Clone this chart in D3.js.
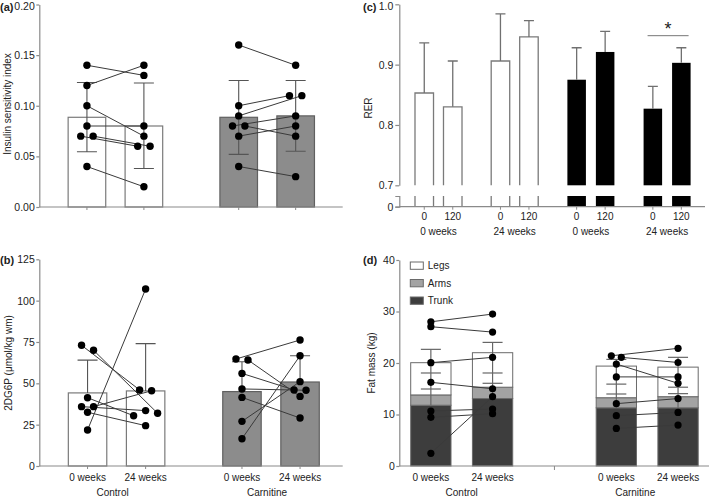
<!DOCTYPE html>
<html><head><meta charset="utf-8">
<script src="https://cdn.jsdelivr.net/npm/d3@7"></script>
<style>
body{margin:0;background:#fff}
svg{font-family:"Liberation Sans",Arial,Helvetica,sans-serif;}
</style>
</head><body>
<svg id="chart" width="709" height="496"></svg>
<script>
// ---------------- DATA ----------------
const groups = ["Control", "Carnitine"];
const times = ["0 weeks", "24 weeks"];

// Panel (a) Insulin sensitivity index
const aTicks = [0, 0.05, 0.10, 0.15, 0.20];
const aCtrl0 = [0.14, 0.12, 0.10, 0.08, 0.07, 0.07, 0.04];
const aCtrl24 = [0.13, 0.14, 0.07, 0.08, 0.06, 0.06, 0.02];
const aCarn0 = [0.16, 0.10, 0.09, 0.08, 0.08, 0.07, 0.04];
const aCarn24 = [0.14, 0.11, 0.11, 0.09, 0.07, 0.08, 0.03];
const aMean = [0.0886, 0.080, 0.0886, 0.090];
const aErrLow = [0.0546, 0.038, 0.052, 0.055];
const aErrHigh = [0.123, 0.1225, 0.125, 0.125];

// Panel (b) 2DG6P
const bTicks = [0, 25, 50, 75, 100, 125];
const bCtrl0 = [73, 70, 21.8, 41.3, 35.9, 35.9, 32.5];
const bCtrl24 = [46, 31.9, 107, 30.4, 33.5, 45.5, 24.4];
const bCarn0 = [64.7, 64.1, 56, 46.6, 41.5, 27, 16.5];
const bCarn24 = [76.2, 42.1, 46, 45.8, 29, 51, 66.7];
const bMean = [44.2, 45.4, 45.0, 50.8];
const bErrHigh = [64, 74, 63, 66.7];

// Panel (c) RER
const cGroups = ["Control 0 weeks", "Control 24 weeks", "Carnitine 0 weeks", "Carnitine 24 weeks"];
const cGroupLabels = ["0 weeks", "24 weeks", "0 weeks", "24 weeks"];
const cTimes = ["0", "120"];
const cTicks = [0.7, 0.8, 0.9, 1.0];
const cMean = [[0.853, 0.830], [0.906, 0.946], [0.875, 0.921], [0.827, 0.903]];
const cErrHigh = [[0.936, 0.906], [0.984, 0.973], [0.928, 0.955], [0.864, 0.928]];
const cSigValue = 0.948;

// Panel (d) Fat mass
const dTicks = [0, 10, 20, 30, 40];
const dKeys = ["Trunk", "Arms", "Legs"];
const dTrunk = [11.8, 13.1, 11.3, 11.3];
const dArms = [2.0, 2.2, 1.96, 2.16];
const dLegs = [6.26, 6.7, 6.14, 5.74];
const dLegsErr = [22.65, 24.0, 20.7, 21.1];
const dTrunkErr = [18.06, 18.06, 15.9, 15.3];
const dArmsErr = [14.95, 16.06, 13.98, 14.05];
const dCtrl0 = [28.0, 27.05, 20.06, 16.25, 10.68, 9.45, 2.46];
const dCtrl24 = [29.5, 26.0, 21.1, 15.0, 11.07, 10.16, 13.46];
const dCarn0 = [21.4, 21.1, 19.8, 17.3, 12.1, 9.77, 7.3];
const dCarn24 = [22.85, 20.1, 16.05, 17.3, 13.1, 10.4, 7.95];

// ---------------- STYLE ----------------
const AX = "#8a8a8a", TXT = "#222", BAR_EDGE = "#7a7a7a", LINE = "#3a3a3a";
const TICKFS = "10.5px", LABFS = "10px";

const svg = d3.select("#chart");

function styleAxis(g) {
  g.selectAll(".domain").attr("stroke", AX).attr("stroke-width", 1.2);
  g.selectAll(".tick line").attr("stroke", AX).attr("stroke-width", 1.2);
  g.selectAll(".tick text").attr("fill", TXT).style("font-size", TICKFS);
}

function swarm(vals, y, s, th) {
  const n = vals.length, off = new Array(n).fill(0);
  const order = d3.range(n).sort((a, b) => d3.descending(vals[a], vals[b]) || a - b);
  const cands = [0];
  for (let k = 1; k < 6; k++) cands.push(k * s, -k * s);
  const placed = [];
  for (const i of order) {
    const yi = y(vals[i]);
    for (const c of cands) {
      if (placed.every(j => Math.abs(y(vals[j]) - yi) >= th || Math.abs(off[j] - c) >= s - 1e-6)) { off[i] = c; break; }
    }
    placed.push(i);
  }
  const parent = d3.range(n);
  const find = i => parent[i] === i ? i : (parent[i] = find(parent[i]));
  for (let i = 0; i < n; i++) for (let j = i + 1; j < n; j++)
    if (Math.abs(y(vals[i]) - y(vals[j])) < th) parent[find(i)] = find(j);
  const comps = d3.group(d3.range(n), i => find(i));
  for (const [, m] of comps) {
    if (m.length === 2) { const sh = (off[m[0]] + off[m[1]]) / 2; m.forEach(i => off[i] -= sh); }
  }
  return off;
}

function drawPairs(g, x0, x1, y, subj, s, th, r) {
  groups.forEach((gr, gi) => {
    const [v0, v1] = subj[gi];
    const cx0 = x0(gr) + x1(times[0]) + x1.bandwidth() / 2;
    const cx1 = x0(gr) + x1(times[1]) + x1.bandwidth() / 2;
    const o0 = swarm(v0, y, s, th), o1 = swarm(v1, y, s, th);
    g.selectAll(null).data(v0).enter().append("line")
      .attr("x1", (d, i) => cx0 + o0[i]).attr("y1", d => y(d))
      .attr("x2", (d, i) => cx1 + o1[i]).attr("y2", (d, i) => y(v1[i]))
      .attr("stroke", LINE).attr("stroke-width", 1);
    [[v0, o0, cx0], [v1, o1, cx1]].forEach(([v, o, cx]) => {
      g.selectAll(null).data(v).enter().append("circle")
        .attr("cx", (d, i) => cx + o[i]).attr("cy", d => y(d)).attr("r", r).attr("fill", "#000");
    });
  });
}

function barList() {
  const out = [];
  groups.forEach((gr, gi) => times.forEach((t, ti) => out.push({ g: gr, t, k: gi * 2 + ti })));
  return out;
}

function nudgeTop(ax, top) {
  ax.selectAll(".tick").filter(d => Math.abs(d - top) < 1e-9).select("text").attr("dy", "0.5em");
}

// ---------------- PANEL A ----------------
(function () {
  const g = svg.append("g");
  const y = d3.scaleLinear().domain([0, 0.2]).range([207, 4.5]);
  const x0 = d3.scaleBand().domain(groups).range([39.3, 343.3]).paddingInner(0.377).paddingOuter(0.19);
  const x1 = d3.scaleBand().domain(times).range([0, x0.bandwidth()]).paddingInner(0.34).paddingOuter(0);
  const bars = barList();
  g.selectAll(null).data(bars).enter().append("rect")
    .attr("x", d => x0(d.g) + x1(d.t)).attr("width", x1.bandwidth())
    .attr("y", d => y(aMean[d.k])).attr("height", d => y(0) - y(aMean[d.k]))
    .attr("fill", d => d.g === "Control" ? "#fff" : "#8c8c8c")
    .attr("stroke", d => d.g === "Control" ? BAR_EDGE : "#606060").attr("stroke-width", 1.2);
  const cx = d => x0(d.g) + x1(d.t) + x1.bandwidth() / 2;
  g.selectAll(null).data(bars).enter().append("path")
    .attr("d", d => `M${cx(d)},${y(aErrLow[d.k])}V${y(aErrHigh[d.k])}M${cx(d) - 10},${y(aErrHigh[d.k])}h20M${cx(d) - 10},${y(aErrLow[d.k])}h20`)
    .attr("stroke", "#555").attr("stroke-width", 1.1).attr("fill", "none");
  drawPairs(g, x0, x1, y, [[aCtrl0, aCtrl24], [aCarn0, aCarn24]], 12.4, 5.2, 3.7);
  const ya = g.append("g").attr("transform", "translate(39.3,0)")
    .call(d3.axisLeft(y).tickValues(aTicks).tickFormat(d3.format(".2f")).tickSize(3).tickPadding(1.5).tickSizeOuter(0));
  styleAxis(ya); nudgeTop(ya, 0.2);
  g.append("line").attr("x1", 39.3).attr("x2", 342.7).attr("y1", y(0)).attr("y2", y(0)).attr("stroke", AX).attr("stroke-width", 1.2);
  g.selectAll(null).data(bars).enter().append("line")
    .attr("x1", cx).attr("x2", cx).attr("y1", y(0)).attr("y2", y(0) + 3).attr("stroke", AX);
  g.append("text").attr("x", 0).attr("y", 11).attr("font-weight", "bold").style("font-size", "11px").attr("fill", TXT).text("(a)");
  g.append("text").attr("transform", "translate(7.5,104) rotate(-90)").attr("text-anchor", "middle")
    .attr("dy", "0.35em").style("font-size", LABFS).attr("fill", TXT).text("Insulin sensitivity index");
})();

// ---------------- PANEL B ----------------
(function () {
  const g = svg.append("g");
  const y = d3.scaleLinear().domain([0, 125]).range([466, 259.3]);
  const x0 = d3.scaleBand().domain(groups).range([39.3, 348.3]).paddingInner(0.375).paddingOuter(0.188);
  const x1 = d3.scaleBand().domain(times).range([0, x0.bandwidth()]).paddingInner(0.338).paddingOuter(0);
  const bars = barList();
  const cx = d => x0(d.g) + x1(d.t) + x1.bandwidth() / 2;
  g.selectAll(null).data(bars).enter().append("rect")
    .attr("x", d => x0(d.g) + x1(d.t)).attr("width", x1.bandwidth())
    .attr("y", d => y(bMean[d.k])).attr("height", d => y(0) - y(bMean[d.k]))
    .attr("fill", d => d.g === "Control" ? "#fff" : "#8c8c8c")
    .attr("stroke", d => d.g === "Control" ? BAR_EDGE : "#606060").attr("stroke-width", 1.2);
  g.selectAll(null).data(bars).enter().append("path")
    .attr("d", d => `M${cx(d)},${y(bMean[d.k])}V${y(bErrHigh[d.k])}M${cx(d) - 10},${y(bErrHigh[d.k])}h20`)
    .attr("stroke", "#555").attr("stroke-width", 1.1).attr("fill", "none");
  drawPairs(g, x0, x1, y, [[bCtrl0, bCtrl24], [bCarn0, bCarn24]], 12, 5.2, 3.7);
  const ya = g.append("g").attr("transform", "translate(39.3,0)")
    .call(d3.axisLeft(y).tickValues(bTicks).tickSize(3).tickPadding(1.5).tickSizeOuter(0));
  styleAxis(ya);
  g.append("line").attr("x1", 39.3).attr("x2", 342.7).attr("y1", y(0)).attr("y2", y(0)).attr("stroke", AX).attr("stroke-width", 1.2);
  g.selectAll(null).data(bars).enter().append("line")
    .attr("x1", cx).attr("x2", cx).attr("y1", y(0)).attr("y2", y(0) + 3).attr("stroke", AX);
  g.selectAll(null).data(bars).enter().append("text")
    .attr("x", cx).attr("y", 480.5).attr("text-anchor", "middle").style("font-size", LABFS).attr("fill", TXT).text(d => d.t);
  g.selectAll(null).data(groups).enter().append("text")
    .attr("x", d => x0(d) + x0.bandwidth() / 2 - 4).attr("y", 495.5).attr("text-anchor", "middle")
    .style("font-size", LABFS).attr("fill", TXT).text(d => d);
  g.append("text").attr("x", 0).attr("y", 263.5).attr("font-weight", "bold").style("font-size", "11px").attr("fill", TXT).text("(b)");
  g.append("text").attr("transform", "translate(8.5,363) rotate(-90)").attr("text-anchor", "middle")
    .attr("dy", "0.35em").style("font-size", LABFS).attr("fill", TXT).text("2DG6P (μmol/kg wm)");
})();

// ---------------- PANEL C ----------------
(function () {
  const g = svg.append("g");
  const y = d3.scaleLinear().domain([0.7, 1.0]).range([185.3, 4.3]);
  const yL = d3.scaleLinear().domain([0, 0.7]).range([206.7, 196]);
  const x0 = d3.scaleBand().domain(cGroups).range([399.3, 706.3]).paddingInner(0.383).paddingOuter(0.206);
  const x1 = d3.scaleBand().domain(cTimes).range([0, x0.bandwidth()]).paddingInner(0.35).paddingOuter(0);
  const bars = [];
  cGroups.forEach((gr, gi) => cTimes.forEach((t, ti) => bars.push({ g: gr, gi, t, ti, v: cMean[gi][ti], e: cErrHigh[gi][ti], dark: gr.startsWith("Carnitine") })));
  const bx = d => x0(d.g) + x1(d.t), bw = x1.bandwidth();
  const cx = d => bx(d) + bw / 2;
  g.selectAll(null).data(bars.filter(d => !d.dark)).enter().append("path")
    .attr("d", d => `M${bx(d)},${y(0.7)}V${y(d.v)}H${bx(d) + bw}V${y(0.7)}M${bx(d)},${yL(0)}V${yL(0.7)}M${bx(d) + bw},${yL(0)}V${yL(0.7)}`)
    .attr("fill", "#fff").attr("stroke", BAR_EDGE).attr("stroke-width", 1.3);
  g.selectAll(null).data(bars.filter(d => d.dark)).enter().append("rect")
    .attr("x", bx).attr("width", bw).attr("y", d => y(d.v)).attr("height", d => y(0.7) - y(d.v)).attr("fill", "#000");
  g.selectAll(null).data(bars.filter(d => d.dark)).enter().append("rect")
    .attr("x", bx).attr("width", bw).attr("y", yL(0.7)).attr("height", yL(0) - yL(0.7)).attr("fill", "#000");
  g.selectAll(null).data(bars).enter().append("path")
    .attr("d", d => `M${cx(d)},${y(d.v)}V${y(d.e)}M${cx(d) - 5},${y(d.e)}h10`)
    .attr("stroke", "#707070").attr("stroke-width", 1.3).attr("fill", "none");
  const ya = g.append("g").attr("transform", "translate(399.3,0)")
    .call(d3.axisLeft(y).tickValues(cTicks).tickFormat(d3.format(".1f")).tickSize(4).tickPadding(2).tickSizeOuter(0));
  styleAxis(ya); nudgeTop(ya, 1.0);
  const yb = g.append("g").attr("transform", "translate(399.3,0)")
    .call(d3.axisLeft(yL).tickValues([0]).tickFormat(d3.format("d")).tickSize(4).tickPadding(2).tickSizeOuter(4));
  styleAxis(yb);
  g.append("line").attr("x1", 399.3).attr("x2", 705).attr("y1", yL(0)).attr("y2", yL(0)).attr("stroke", AX).attr("stroke-width", 1.2);
  g.selectAll(null).data(bars).enter().append("line")
    .attr("x1", cx).attr("x2", cx).attr("y1", yL(0)).attr("y2", yL(0) + 3).attr("stroke", AX);
  g.selectAll(null).data(bars).enter().append("text")
    .attr("x", cx).attr("y", 220).attr("text-anchor", "middle").style("font-size", LABFS).attr("fill", TXT).text(d => d.t);
  g.selectAll(null).data(cGroups).enter().append("text")
    .attr("x", d => x0(d) + x0.bandwidth() / 2).attr("y", 235).attr("text-anchor", "middle")
    .style("font-size", LABFS).attr("fill", TXT).text((d, i) => cGroupLabels[i]);
  const last = bars.filter(d => d.gi === 3);
  g.append("line").attr("x1", bx(last[0]) + 4).attr("x2", bx(last[1]) + bw - 2)
    .attr("y1", y(cSigValue)).attr("y2", y(cSigValue)).attr("stroke", "#777").attr("stroke-width", 1);
  g.append("text").attr("x", (bx(last[0]) + bx(last[1]) + bw) / 2 + 1).attr("y", 35).attr("text-anchor", "middle")
    .style("font-size", "18px").attr("fill", TXT).text("*");
  g.append("text").attr("x", 363).attr("y", 11).attr("font-weight", "bold").style("font-size", "11px").attr("fill", TXT).text("(c)");
  g.append("text").attr("transform", "translate(368.5,108) rotate(-90)").attr("text-anchor", "middle")
    .attr("dy", "0.35em").style("font-size", LABFS).attr("fill", TXT).text("RER");
})();

// ---------------- PANEL D ----------------
(function () {
  const g = svg.append("g");
  const y = d3.scaleLinear().domain([0, 40]).range([466, 260]);
  const x0 = d3.scaleBand().domain(groups).range([399.3, 709.6]).paddingInner(0.45).paddingOuter(0.0615);
  const x1 = d3.scaleBand().domain(times).range([0, x0.bandwidth()]).paddingInner(0.347).paddingOuter(0);
  const bars = barList();
  const rows = bars.map(b => ({ ...b, Trunk: dTrunk[b.k], Arms: dArms[b.k], Legs: dLegs[b.k] }));
  const stack = d3.stack().keys(dKeys)(rows);
  const fills = { Trunk: "#3d3d3d", Arms: "#a3a3a3", Legs: "#ffffff" };
  const bx = d => x0(d.g) + x1(d.t), bw = x1.bandwidth();
  const cx = d => bx(d) + bw / 2;
  stack.forEach(layer => {
    g.selectAll(null).data(layer).enter().append("rect")
      .attr("x", d => bx(d.data)).attr("width", bw)
      .attr("y", d => y(d[1])).attr("height", d => y(d[0]) - y(d[1]))
      .attr("fill", fills[layer.key]).attr("stroke", "#6a6a6a").attr("stroke-width", 1);
  });
  const tops = stack.map(l => l.map(d => d[1]));
  const errs = [dTrunkErr, dArmsErr, dLegsErr];
  bars.forEach((b, i) => {
    const base = tops[0][i];
    const top = d3.max(errs, e => e[b.k]);
    g.append("line").attr("x1", cx(b)).attr("x2", cx(b)).attr("y1", y(base)).attr("y2", y(top)).attr("stroke", "#666").attr("stroke-width", 1.2);
    errs.forEach(e => g.append("line").attr("x1", cx(b) - 10).attr("x2", cx(b) + 10)
      .attr("y1", y(e[b.k])).attr("y2", y(e[b.k])).attr("stroke", "#666").attr("stroke-width", 1.2));
  });
  drawPairs(g, x0, x1, y, [[dCtrl0, dCtrl24], [dCarn0, dCarn24]], 10, 4.5, 3.6);
  const ya = g.append("g").attr("transform", "translate(399.3,0)")
    .call(d3.axisLeft(y).tickValues(dTicks).tickSize(3).tickPadding(1.5).tickSizeOuter(0));
  styleAxis(ya);
  g.append("line").attr("x1", 399.3).attr("x2", 709).attr("y1", y(0)).attr("y2", y(0)).attr("stroke", AX).attr("stroke-width", 1.2);
  const mid = (x0(groups[0]) + x0.bandwidth() + x0(groups[1])) / 2;
  g.append("line").attr("x1", mid).attr("x2", mid).attr("y1", y(0)).attr("y2", y(0) + 4).attr("stroke", AX);
  g.selectAll(null).data(bars).enter().append("text")
    .attr("x", cx).attr("y", 480.5).attr("text-anchor", "middle").style("font-size", LABFS).attr("fill", TXT).text(d => d.t);
  g.selectAll(null).data(groups).enter().append("text")
    .attr("x", (d, i) => x0(d) + x0.bandwidth() / 2 - (i ? 12 : 0)).attr("y", 495.5).attr("text-anchor", "middle")
    .style("font-size", LABFS).attr("fill", TXT).text(d => d);
  const leg = g.append("g").attr("transform", "translate(410.3,262)");
  dKeys.slice().reverse().forEach((k, i) => {
    leg.append("rect").attr("x", 0).attr("y", i * 17.5).attr("width", 13).attr("height", 7.3)
      .attr("fill", fills[k]).attr("stroke", "#6a6a6a").attr("stroke-width", 1);
    leg.append("text").attr("x", 17.5).attr("y", i * 17.5 + 3.7).attr("dy", "0.35em")
      .style("font-size", LABFS).attr("fill", TXT).text(k);
  });
  g.append("text").attr("x", 363).attr("y", 264).attr("font-weight", "bold").style("font-size", "11px").attr("fill", TXT).text("(d)");
  g.append("text").attr("transform", "translate(371,363) rotate(-90)").attr("text-anchor", "middle")
    .attr("dy", "0.35em").style("font-size", LABFS).attr("fill", TXT).text("Fat mass (kg)");
})();
</script>
</body></html>
